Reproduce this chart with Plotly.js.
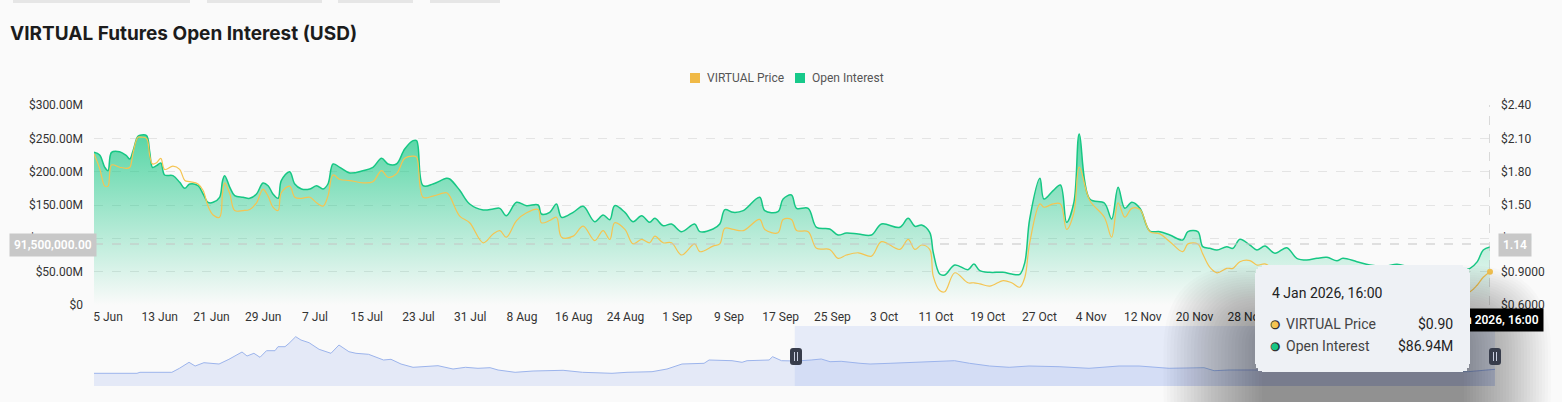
<!DOCTYPE html>
<html><head><meta charset="utf-8">
<script src="https://cdn.plot.ly/plotly-3.0.1.min.js"></script>
<style>html,body{margin:0;padding:0;background:#fafafa;}</style>
</head><body><div id="chart" style="width:1562px;height:402px;"></div>
<script>
// ---------------- DATA ----------------
const oiDates = ['2025-06-02 20:00','2025-06-03 17:00','2025-06-04 12:00','2025-06-05 00:00','2025-06-05 13:00','2025-06-06 19:00','2025-06-07 20:00','2025-06-08 09:00','2025-06-08 21:00','2025-06-09 15:00','2025-06-10 04:00','2025-06-10 23:00','2025-06-11 11:00','2025-06-11 21:00','2025-06-12 12:00','2025-06-13 04:00','2025-06-13 18:00','2025-06-15 01:00','2025-06-16 02:00','2025-06-16 21:00','2025-06-17 15:00','2025-06-18 22:00','2025-06-19 17:00','2025-06-20 11:00','2025-06-21 06:00','2025-06-22 06:00','2025-06-22 17:00','2025-06-23 01:00','2025-06-23 20:00','2025-06-24 14:00','2025-06-25 21:00','2025-06-26 22:00','2025-06-27 23:00','2025-06-28 23:00','2025-06-29 18:00','2025-06-30 12:00','2025-07-01 07:00','2025-07-01 19:00','2025-07-03 02:00','2025-07-03 21:00','2025-07-04 22:00','2025-07-06 05:00','2025-07-07 06:00','2025-07-08 06:00','2025-07-09 00:00','2025-07-09 19:00','2025-07-10 20:00','2025-07-12 09:00','2025-07-14 10:00','2025-07-15 23:00','2025-07-17 07:00','2025-07-18 07:00','2025-07-19 14:00','2025-07-20 21:00','2025-07-22 04:00','2025-07-22 17:00','2025-07-23 17:00','2025-07-25 06:00','2025-07-27 08:00','2025-07-27 20:00','2025-07-29 09:00','2025-07-30 22:00','2025-08-02 00:00','2025-08-03 13:00','2025-08-04 14:00','2025-08-05 14:00','2025-08-07 04:00','2025-08-08 17:00','2025-08-10 12:00','2025-08-11 00:00','2025-08-12 07:00','2025-08-13 08:00','2025-08-14 03:00','2025-08-15 22:00','2025-08-17 11:00','2025-08-19 06:00','2025-08-20 13:00','2025-08-21 14:00','2025-08-22 08:00','2025-08-23 22:00','2025-08-25 04:00','2025-08-26 12:00','2025-08-27 18:00','2025-08-28 13:00','2025-08-29 20:00','2025-08-31 03:00','2025-09-01 16:00','2025-09-03 17:00','2025-09-04 12:00','2025-09-06 13:00','2025-09-07 14:00','2025-09-08 09:00','2025-09-09 16:00','2025-09-11 05:00','2025-09-13 18:00','2025-09-14 13:00','2025-09-16 14:00','2025-09-17 09:00','2025-09-18 16:00','2025-09-19 11:00','2025-09-21 06:00','2025-09-22 13:00','2025-09-24 14:00','2025-09-25 21:00','2025-09-27 04:00','2025-09-29 00:00','2025-10-01 01:00','2025-10-02 14:00','2025-10-05 10:00','2025-10-06 17:00','2025-10-07 18:00','2025-10-08 19:00','2025-10-10 01:00','2025-10-10 14:00','2025-10-11 14:00','2025-10-12 09:00','2025-10-13 22:00','2025-10-15 23:00','2025-10-16 21:00','2025-10-17 19:00','2025-10-19 08:00','2025-10-21 10:00','2025-10-22 17:00','2025-10-23 23:00','2025-10-24 18:00','2025-10-25 12:00','2025-10-27 02:00','2025-10-27 17:00','2025-10-29 03:00','2025-10-30 06:00','2025-10-31 05:00','2025-11-01 08:00','2025-11-02 04:00','2025-11-03 19:00','2025-11-06 01:00','2025-11-07 04:00','2025-11-08 04:00','2025-11-09 05:00','2025-11-10 07:00','2025-11-11 13:00','2025-11-13 02:00','2025-11-14 15:00','2025-11-16 04:00','2025-11-18 04:00','2025-11-18 23:00','2025-11-20 12:00','2025-11-21 06:00','2025-11-22 08:00','2025-11-23 11:00','2025-11-24 23:00','2025-11-25 22:00','2025-11-27 00:00','2025-11-28 13:00','2025-11-29 15:00','2025-11-30 21:00','2025-12-02 10:00','2025-12-04 06:00','2025-12-05 19:00','2025-12-07 08:00','2025-12-08 22:00','2025-12-10 11:00','2025-12-12 00:00','2025-12-12 22:00','2025-12-15 02:00','2025-12-17 02:00','2025-12-19 10:00','2025-12-21 07:00','2025-12-23 07:00','2025-12-25 15:00','2025-12-27 22:00','2025-12-30 07:00','2026-01-01 14:00','2026-01-02 17:00','2026-01-03 15:00','2026-01-04 16:00'];

// Open interest, $M
const openInterest = [229,225,206.5,201.5,229,230,224,219,231.5,253,255,254,229,206.5,209,213,195,194,184,175,181.5,179,166.5,154,154,161.5,186.5,194,176.5,164,161.5,160,166.5,183,179,166.5,160,186.5,200,181.5,174,174,179,174,181.5,211.5,206.5,198,201.5,206.5,220,211.5,211.5,234,246.5,246.5,179,181.5,190,189,172,151.5,142.5,144,145,134,154,149,150,136.5,139,151.5,131.5,139,148,125,135,128,149,139,125,134,124,130,119,121.5,110,121.5,110,114,121.5,143,139,141.5,161.5,141.5,140,159,165,145,145,116.5,114,105,108,106.5,105,121.5,116.5,130,118,120,109,79,46.5,45,60,53,61.5,51.5,49,49,46.5,46,64,129,190,159,171.5,180,124,154,256.5,159,153,129,176.5,145,154,145,111,110,105,97.5,110,110,87.5,85,82.5,87.5,85,98.5,90,82.5,88.5,77.5,86,70,67.5,70,71.5,66.5,70,65,60,58,61,57,55,53,52,55,65,82.5,86.94];

// VIRTUAL price, $
const virtualPrice = [1.96,1.83,1.67,1.67,1.86,1.84,1.83,1.84,1.97,2.11,2.11,2.10,1.94,1.87,1.88,1.92,1.82,1.85,1.82,1.72,1.71,1.69,1.63,1.49,1.41,1.39,1.61,1.70,1.60,1.45,1.45,1.46,1.52,1.64,1.58,1.48,1.45,1.61,1.67,1.57,1.56,1.57,1.52,1.49,1.58,1.77,1.73,1.72,1.70,1.71,1.81,1.75,1.78,1.92,1.94,1.93,1.57,1.58,1.61,1.58,1.40,1.34,1.16,1.24,1.27,1.21,1.36,1.43,1.46,1.34,1.36,1.39,1.21,1.22,1.31,1.18,1.27,1.19,1.34,1.28,1.15,1.19,1.16,1.22,1.16,1.16,1.05,1.15,1.08,1.13,1.15,1.29,1.28,1.27,1.37,1.28,1.25,1.37,1.37,1.27,1.26,1.11,1.10,1.02,1.05,1.07,1.04,1.17,1.10,1.19,1.10,1.14,1.10,0.86,0.73,0.72,0.89,0.80,0.80,0.79,0.77,0.82,0.80,0.76,0.85,1.16,1.51,1.48,1.51,1.51,1.28,1.43,1.84,1.54,1.39,1.21,1.52,1.39,1.47,1.46,1.26,1.24,1.17,1.08,1.15,1.15,1.06,0.94,0.89,0.93,0.93,0.99,1.00,0.96,0.97,0.92,0.95,0.88,0.86,0.87,0.86,0.84,0.85,0.83,0.82,0.80,0.82,0.78,0.75,0.72,0.70,0.72,0.78,0.85,0.90];

// overview series in the zoom slider (full history)
const overviewDates = ['2024-10-29 20:00','2024-11-12 02:00','2024-11-13 00:00','2024-11-22 20:00','2024-11-25 04:00','2024-11-28 03:00','2024-11-30 00:00','2024-12-02 17:00','2024-12-07 09:00','2024-12-10 10:00','2024-12-14 11:00','2024-12-16 00:00','2024-12-18 03:00','2024-12-20 00:00','2024-12-22 00:00','2024-12-24 15:00','2024-12-25 13:00','2024-12-27 17:00','2024-12-28 23:00','2024-12-31 00:00','2025-01-01 15:00','2025-01-04 03:00','2025-01-07 05:00','2025-01-10 21:00','2025-01-13 08:00','2025-01-16 10:00','2025-01-18 14:00','2025-01-22 11:00','2025-01-27 02:00','2025-01-29 09:00','2025-02-01 11:00','2025-02-05 04:00','2025-02-12 21:00','2025-02-17 12:00','2025-02-21 08:00','2025-02-25 05:00','2025-02-28 22:00','2025-03-03 09:00','2025-03-08 15:00','2025-03-14 04:00','2025-03-23 10:00','2025-03-29 10:00','2025-04-07 12:00','2025-04-12 03:00','2025-04-19 20:00','2025-04-24 11:00','2025-04-29 02:00','2025-05-05 21:00','2025-05-07 10:00','2025-05-14 12:00','2025-05-17 14:00','2025-05-19 03:00','2025-05-25 22:00','2025-05-27 00:00','2025-05-29 18:00','2025-06-03 06:00','2025-06-07 21:00','2025-06-11 00:00','2025-06-13 17:00','2025-06-17 03:00','2025-06-22 23:00','2025-06-26 01:00','2025-07-02 05:00','2025-07-09 22:00','2025-07-17 15:00','2025-07-22 02:00','2025-07-26 17:00','2025-08-01 21:00','2025-08-07 22:00','2025-08-14 01:00','2025-08-23 07:00','2025-09-01 13:00','2025-09-10 19:00','2025-09-16 23:00','2025-09-26 05:00','2025-10-07 00:00','2025-10-10 02:00','2025-10-14 17:00','2025-10-22 10:00','2025-11-05 14:00','2025-11-20 23:00','2025-12-06 10:00','2025-12-18 18:00','2025-12-27 09:00','2026-01-04 16:00'];
const overviewValues = [127,127,137,137,177,237,200,233,220,267,340,300,327,287,353,353,393,393,427,493,460,433,367,327,410,343,327,317,260,267,220,187,203,170,187,177,183,160,137,150,157,137,127,137,143,170,220,227,260,253,237,253,260,293,253,250,260,270,243,247,227,220,227,237,243,253,227,200,187,200,193,177,200,200,177,183,153,160,160,155,150,147,143,143,167];

const xTickDates = ['2025-06-05','2025-06-13','2025-06-21','2025-06-29','2025-07-07','2025-07-15','2025-07-23','2025-07-31','2025-08-08','2025-08-16','2025-08-24','2025-09-01','2025-09-09','2025-09-17','2025-09-25','2025-10-03','2025-10-11','2025-10-19','2025-10-27','2025-11-04','2025-11-12','2025-11-20','2025-11-28'];
const xTickLabels = ['5 Jun','13 Jun','21 Jun','29 Jun','7 Jul','15 Jul','23 Jul','31 Jul','8 Aug','16 Aug','24 Aug','1 Sep','9 Sep','17 Sep','25 Sep','3 Oct','11 Oct','19 Oct','27 Oct','4 Nov','12 Nov','20 Nov','28 Nov'];
const oiTickVals = [0,50,100,150,200,250,300];
const oiTickLabels = ['$0','$50.00M','$100.00M','$150.00M','$200.00M','$250.00M','$300.00M'];
const priceTickVals = [0.6,0.9,1.2,1.5,1.8,2.1,2.4];
const priceTickLabels = ['$0.6000','$0.9000','$1.20','$1.50','$1.80','$2.10','$2.40'];

const seriesNames = ['VIRTUAL Price','Open Interest'];
const pointerOI = 91.5;       // $M, crosshair level
const pointerPrice = '1.14';
const pointerDateLabel = '4 Jan 2026, 16:00';
const viewStart = '2025-06-02 20:00';
const viewEnd = '2026-01-04 16:00';
const overviewStart = '2024-10-29 20:00';

// ---------------- LAYOUT HELPERS ----------------
const L = 94, R = 1495, T = 105, B = 386;
const px = x => (x - L) / (R - L);
const py = y => (B - y) / (B - T);
function rr(x0, y0, x1, y1, r) {
  const P = (x, y) => px(x) + ',' + py(y);
  return 'M' + P(x0 + r, y0) + ' L' + P(x1 - r, y0) + ' Q' + P(x1, y0) + ' ' + P(x1, y0 + r) +
    ' L' + P(x1, y1 - r) + ' Q' + P(x1, y1) + ' ' + P(x1 - r, y1) +
    ' L' + P(x0 + r, y1) + ' Q' + P(x0, y1) + ' ' + P(x0, y1 - r) +
    ' L' + P(x0, y0 + r) + ' Q' + P(x0, y0) + ' ' + P(x0 + r, y0) + ' Z';
}
const GREEN = '#16c784', ORANGE = '#f5c451';
const FONT = 'Roboto, "Noto Sans", sans-serif';
const mainXEnd = px(1490);
const n = oiDates.length;

const traces = [
  {x: oiDates, y: openInterest, xaxis: 'x', yaxis: 'y', type: 'scatter', mode: 'lines',
   line: {color: GREEN, width: 1.5, shape: 'spline', smoothing: 1.0}, fill: 'tozeroy',
   fillgradient: {type: 'vertical', start: 0, stop: 258,
     colorscale: [[0, 'rgba(22,199,132,0.0)'], [1, 'rgba(22,199,132,0.72)']]},
   showlegend: false, hoverinfo: 'skip'},
  {x: oiDates, y: virtualPrice, xaxis: 'x', yaxis: 'y3', type: 'scatter', mode: 'lines',
   line: {color: ORANGE, width: 1.2, shape: 'spline', smoothing: 1.0}, showlegend: false, hoverinfo: 'skip'},
  {x: [oiDates[n - 1]], y: [virtualPrice[n - 1]], xaxis: 'x', yaxis: 'y3', type: 'scatter', mode: 'markers',
   marker: {color: ORANGE, size: 6}, showlegend: false, hoverinfo: 'skip', cliponaxis: false},
  {x: overviewDates, y: overviewValues, xaxis: 'x2', yaxis: 'y2', type: 'scatter', mode: 'lines',
   line: {color: '#9cb4ec', width: 1}, fill: 'tozeroy', fillcolor: 'rgba(150,175,235,0.22)',
   showlegend: false, hoverinfo: 'skip'}
];

const shapes = [];
// top tab remnants
[[13,190],[207,322],[338,413],[430,500]].forEach(([a,b]) => shapes.push({type:'rect', xref:'paper', yref:'paper', x0:px(a), x1:px(b), y0:py(3), y1:py(0), fillcolor:'#e6e6e6', line:{width:0}, layer:'above'}));
// legend squares
shapes.push({type:'rect', xref:'paper', yref:'paper', x0:px(690), x1:px(700), y0:py(83), y1:py(73), fillcolor:'#f0b946', line:{width:0}});
shapes.push({type:'rect', xref:'paper', yref:'paper', x0:px(795), x1:px(805), y0:py(83), y1:py(73), fillcolor:'#17c98a', line:{width:0}});
// slider selected window
shapes.push({type:'rect', xref:'x2', yref:'y2 domain', x0:viewStart, x1:viewEnd, y0:0, y1:1, fillcolor:'rgba(130,160,235,0.17)', line:{width:0}, layer:'below'});
// crosshair
shapes.push({type:'line', xref:'x', yref:'y domain', x0:viewEnd, x1:viewEnd, y0:0, y1:1, line:{color:'#b8b8b8', width:1, dash:'dash'}});
shapes.push({type:'line', xref:'x domain', yref:'y', x0:0, x1:1, y0:pointerOI, y1:pointerOI, line:{color:'#c4c4c4', width:1, dash:'dash'}});
// tooltip shadow (soft, many faint layers)
for (let i = 0; i < 30; i++) {
  shapes.push({type:'path', xref:'paper', yref:'paper', path: rr(1262 - 3.4*i, 332 - 2.3*i, 1464 + 3*i, 418 + 2*i, 12 + 2.5*i),
    fillcolor:'rgba(0,0,0,0.014)', line:{width:0}, layer:'above'});
}
// slider handles
[796, 1495].forEach(cx => {
  shapes.push({type:'path', xref:'paper', yref:'paper', path: rr(cx - 6, 348, cx + 6, 365, 3), fillcolor:'#383d4c', line:{width:0}, layer:'above'});
  [-1.5, 1.5].forEach(d => shapes.push({type:'line', xref:'paper', yref:'paper', x0:px(cx + d), x1:px(cx + d), y0:py(352), y1:py(361), line:{color:'#c9cee0', width:1}, layer:'above'}));
});

const ann = [];
const A = (o) => ann.push(Object.assign({xref:'paper', yref:'paper', showarrow:false}, o));
// legend text
A({x:px(705), y:py(78), xanchor:'left', yanchor:'middle', text:seriesNames[0], font:{family:FONT, size:12, color:'#555'}});
A({x:px(810), y:py(78), xanchor:'left', yanchor:'middle', text:seriesNames[1], font:{family:FONT, size:12, color:'#555'}});
// axis pointer labels
A({x:px(53), y:py(245), xanchor:'center', yanchor:'middle', text:(pointerOI*1e6).toLocaleString('en-US',{minimumFractionDigits:2, maximumFractionDigits:2}),
   font:{family:FONT, size:12, color:'#fff', weight:600}, bgcolor:'#c8c8c8', borderpad:4});
A({x:px(1515), y:py(245), xanchor:'center', yanchor:'middle', text:pointerPrice, font:{family:FONT, size:12, color:'#fff', weight:600}, bgcolor:'#c8c8c8', borderpad:4});
A({x:px(1490), y:py(320), xanchor:'center', yanchor:'middle', text:pointerDateLabel, font:{family:FONT, size:12, color:'#fff', weight:600}, bgcolor:'#000', borderpad:4});
// tooltip box (stacked to round the corners)
const X0 = 1255, X1 = 1470, Y0 = 265, Y1 = 372;
[[7,0],[3,1.5],[1,4],[0,8]].forEach(([ih, iv]) => A({x:px(X0 + ih), y:py(Y0 + iv), xanchor:'left', yanchor:'top', text:' ',
  width: X1 - X0 - 2*ih, height: Y1 - Y0 - 2*iv, bgcolor:'#eef1f5', borderpad:0, borderwidth:0}));
A({x:px(1270), y:py(293), xanchor:'left', yanchor:'middle', text:pointerDateLabel, font:{family:FONT, size:14, color:'#222'}});
[[324, ORANGE, seriesNames[0], '$' + virtualPrice[n-1].toFixed(2)], [346, GREEN, seriesNames[1], '$' + openInterest[n-1].toFixed(2) + 'M']].forEach(([yy, c, name, val]) => {
  A({x:px(1275), y:py(yy), xanchor:'center', yanchor:'middle', text:'●', font:{family:'DejaVu Sans', size:12, color:'#333'}});
  A({x:px(1275), y:py(yy), xanchor:'center', yanchor:'middle', text:'●', font:{family:'DejaVu Sans', size:9, color:c}});
  A({x:px(1284), y:py(yy), xanchor:'left', yanchor:'middle', text:name, font:{family:FONT, size:14, color:'#444'}});
  A({x:px(1455), y:py(yy), xanchor:'right', yanchor:'middle', text:val, font:{family:FONT, size:14, color:'#222'}});
});

const layout = {
  width: 1562, height: 402, autosize: false,
  margin: {l: L, r: 1562 - R, t: T, b: 402 - B, pad: 0},
  paper_bgcolor: '#fafafa', plot_bgcolor: 'rgba(0,0,0,0)',
  showlegend: false, hovermode: false,
  title: {text: 'VIRTUAL Futures Open Interest (USD)', xref: 'container', yref: 'container', x: 10/1562, xanchor: 'left', y: 1 - 33/402, yanchor: 'middle',
    font: {family: 'Inter, "Noto Sans", sans-serif', size: 19, weight: 700, color: '#1c1c1c'}},
  xaxis: {domain: [0, mainXEnd], anchor: 'y', type: 'date', range: [viewStart, viewEnd],
    tickmode: 'array', tickvals: xTickDates, ticktext: xTickLabels, showgrid: false, zeroline: false, showline: false,
    ticks: '', ticklabelstandoff: 3, tickfont: {family: FONT, size: 12, color: '#333'}, fixedrange: true},
  yaxis: {domain: [py(305), 1], anchor: 'x', range: [0, 300], tickmode: 'array', tickvals: oiTickVals, ticktext: oiTickLabels,
    showgrid: true, gridcolor: '#e4e4e4', griddash: 'dash', gridwidth: 1, zeroline: false, showline: false, ticks: '',
    ticklabelstandoff: 10, tickfont: {family: FONT, size: 12, color: '#333'}, fixedrange: true},
  yaxis3: {overlaying: 'y', side: 'right', anchor: 'x', range: [0.6, 2.4], tickmode: 'array', tickvals: priceTickVals, ticktext: priceTickLabels,
    showgrid: false, zeroline: false, showline: false, ticks: '', ticklabelstandoff: 10, tickfont: {family: FONT, size: 12, color: '#333'}, fixedrange: true},
  xaxis2: {domain: [0, 1], anchor: 'y2', type: 'date', range: [overviewStart, viewEnd], visible: false, fixedrange: true},
  yaxis2: {domain: [0, py(326)], anchor: 'x2', range: [0, 600], visible: false, fixedrange: true},
  shapes: shapes,
  annotations: ann
};

Plotly.newPlot('chart', traces, layout, {displayModeBar: false, staticPlot: true});
</script>
</body></html>
